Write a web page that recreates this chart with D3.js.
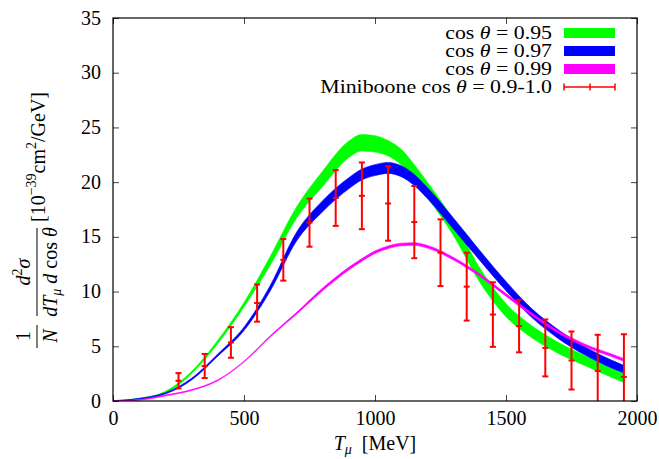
<!DOCTYPE html>
<html lang="en">
<head>
<meta charset="utf-8"/>
<title>Miniboone cross section</title>
<script src="https://d3js.org/d3.v7.min.js"></script>
<style>
  body { margin: 0; background: #fff; }
  text { font-family: "Liberation Serif", serif; fill: #000; }
</style>
</head>
<body>
<script>
// muon kinetic energy grid (MeV) for the model curves
var tGrid = [0, 100, 200, 300, 400, 500, 600, 700, 800, 900, 950, 1000, 1050, 1100, 1150, 1200, 1300, 1400, 1500, 1600, 1700, 1800, 1900, 1950];

// cos theta = 0.95 (green band): centre and half width
var green = [0, 0.2, 0.8, 2.6, 5.4, 8.8, 12.8, 17.2, 20.3, 23.0, 23.6, 23.5, 23.1, 22.3, 20.9, 19.3, 15.8, 11.5, 8.3, 6.3, 4.85, 3.7, 2.6, 2.1];
var greenHw = [0.03, 0.05, 0.08, 0.1, 0.15, 0.2, 0.4, 0.5, 0.7, 0.75, 0.75, 0.75, 0.7, 0.7, 0.7, 0.7, 0.7, 0.65, 0.6, 0.55, 0.5, 0.45, 0.4, 0.4];

// cos theta = 0.97 (blue band)
var blue = [0, 0.2, 0.7, 2.0, 4.2, 6.6, 10.3, 15.0, 17.8, 19.9, 20.7, 21.1, 21.3, 21.0, 20.2, 19.0, 16.2, 13.3, 10.5, 8.0, 6.1, 4.6, 3.4, 2.9];
var blueHw = [0.03, 0.04, 0.06, 0.08, 0.1, 0.15, 0.25, 0.4, 0.5, 0.5, 0.5, 0.5, 0.5, 0.5, 0.5, 0.5, 0.5, 0.45, 0.42, 0.4, 0.4, 0.38, 0.36, 0.35];

// cos theta = 0.99 (magenta band)
var magenta = [0, 0.1, 0.5, 1.0, 1.9, 3.6, 5.9, 8.0, 10.2, 12.1, 12.9, 13.6, 14.05, 14.3, 14.35, 14.1, 13.0, 11.5, 9.7, 7.9, 6.3, 5.1, 4.2, 3.75];
var magentaHw = [0.03, 0.03, 0.04, 0.04, 0.04, 0.04, 0.06, 0.08, 0.12, 0.12, 0.12, 0.12, 0.12, 0.12, 0.12, 0.12, 0.12, 0.12, 0.12, 0.12, 0.12, 0.12, 0.12, 0.12];

// Miniboone data, cos theta 0.9-1.0
var mbT = [250, 350, 450, 550, 650, 750, 850, 950, 1050, 1150, 1250, 1350, 1450, 1550, 1650, 1750, 1850, 1950];
var mbVal = [1.85, 3.2, 5.35, 8.95, 12.9, 16.3, 18.55, 18.75, 18.05, 16.35, 13.55, 10.45, 7.9, 6.85, 4.85, 3.7, 2.75, 2.2];
var mbErr = [0.7, 1.1, 1.4, 1.7, 1.9, 2.2, 2.55, 3.05, 3.4, 3.3, 3.05, 3.1, 2.95, 2.4, 2.6, 2.65, 3.3, 3.9];

var xTicks = [0, 500, 1000, 1500, 2000];
var yTicks = [0, 5, 10, 15, 20, 25, 30, 35];

var w = 659, h = 459;
var mLeft = 113, mRight = 637, mTop = 18, mBottom = 401;

var svg = d3.select("body").append("svg")
    .attr("width", w)
    .attr("height", h);

var x = d3.scaleLinear().domain([0, 2000]).range([mLeft, mRight]);
var y = d3.scaleLinear().domain([0, 35]).range([mBottom, mTop]);

svg.append("clipPath").attr("id", "plotclip")
    .append("rect")
    .attr("x", mLeft).attr("y", mTop)
    .attr("width", mRight - mLeft).attr("height", mBottom - mTop);

var plot = svg.append("g").attr("clip-path", "url(#plotclip)");

// bands
var bands = [
    {c: green, hw: greenHw, col: "#00ff00"},
    {c: blue, hw: blueHw, col: "#0000ff"},
    {c: magenta, hw: magentaHw, col: "#ff00ff"}
];

bands.forEach(function (b) {
    var pts = tGrid.map(function (t, i) { return {t: t, lo: b.c[i] - b.hw[i], hi: b.c[i] + b.hw[i]}; });
    var area = d3.area()
        .x(function (d) { return x(d.t); })
        .y0(function (d) { return y(d.lo); })
        .y1(function (d) { return y(d.hi); })
        .curve(d3.curveMonotoneX);
    plot.append("path")
        .datum(pts)
        .attr("d", area)
        .attr("fill", b.col)
        .attr("stroke", b.col)
        .attr("stroke-width", 0.6);
});

// error bars
var eb = plot.append("g").attr("stroke", "#ff0000").attr("stroke-width", 2);
mbT.forEach(function (t, i) {
    var cx = x(t);
    var yHi = y(mbVal[i] + mbErr[i]), yLo = y(mbVal[i] - mbErr[i]);
    eb.append("line").attr("x1", cx).attr("x2", cx).attr("y1", yHi).attr("y2", yLo);
    eb.append("line").attr("x1", cx - 3).attr("x2", cx + 3).attr("y1", yHi).attr("y2", yHi);
    eb.append("line").attr("x1", cx - 3).attr("x2", cx + 3).attr("y1", yLo).attr("y2", yLo);
    eb.append("line").attr("x1", cx - 3).attr("x2", cx + 3).attr("y1", y(mbVal[i])).attr("y2", y(mbVal[i]));
});

// axes (ticks inside, mirrored)
var tickLen = 6;
var axisBottom = d3.axisBottom(x).tickValues(xTicks).tickSize(-tickLen).tickPadding(14).tickFormat(d3.format("d"));
var axisTop = d3.axisTop(x).tickValues(xTicks).tickSize(-tickLen).tickFormat("");
var axisLeft = d3.axisLeft(y).tickValues(yTicks).tickSize(-tickLen).tickPadding(12).tickFormat(d3.format("d"));
var axisRight = d3.axisRight(y).tickValues(yTicks).tickSize(-tickLen).tickFormat("");

function styleAxis(g) {
    g.select(".domain").remove();
    g.selectAll(".tick line").attr("stroke", "#444").attr("stroke-width", 1);
    g.selectAll(".tick text").attr("font-family", "Liberation Serif").attr("font-size", 20).attr("fill", "#000");
}

svg.append("g").attr("transform", "translate(0," + mBottom + ")").call(axisBottom).call(styleAxis)
    .selectAll(".tick text").attr("dy", "0.5em");
svg.append("g").attr("transform", "translate(0," + mTop + ")").call(axisTop).call(styleAxis);
svg.append("g").attr("transform", "translate(" + mLeft + ",0)").call(axisLeft).call(styleAxis)
    .selectAll(".tick text").attr("dy", "0.3em");
svg.append("g").attr("transform", "translate(" + mRight + ",0)").call(axisRight).call(styleAxis);

// frame
svg.append("rect")
    .attr("x", mLeft).attr("y", mTop)
    .attr("width", mRight - mLeft).attr("height", mBottom - mTop)
    .attr("fill", "none").attr("stroke", "#000").attr("stroke-width", 1.2);

// x label
var xl = svg.append("text").attr("x", 375).attr("y", 450).attr("text-anchor", "middle").attr("font-size", 20);
xl.append("tspan").attr("font-style", "italic").text("T");
xl.append("tspan").attr("font-style", "italic").attr("font-size", 14).attr("dy", 4).text("μ");
xl.append("tspan").attr("dy", -4).text("\u00a0\u00a0[MeV]");

// y label, rotated; local y positive = screen right
var yl = svg.append("g").attr("transform", "translate(37,0) rotate(-90)");
yl.append("text").attr("x", -336).attr("y", -7).attr("text-anchor", "middle").attr("font-size", 20).text("1");
yl.append("line").attr("x1", -348).attr("x2", -325).attr("y1", 0).attr("y2", 0).attr("stroke", "#000").attr("stroke-width", 1);
yl.append("text").attr("x", -336).attr("y", 20).attr("text-anchor", "middle").attr("font-size", 20).attr("font-style", "italic").text("N");

var num = yl.append("text").attr("x", -272).attr("y", -7).attr("text-anchor", "middle").attr("font-size", 20);
num.append("tspan").attr("font-style", "italic").text("d");
num.append("tspan").attr("font-size", 14).attr("dy", -8).text("2");
num.append("tspan").attr("font-style", "italic").attr("dy", 8).text("σ");
yl.append("line").attr("x1", -316).attr("x2", -228).attr("y1", 0).attr("y2", 0).attr("stroke", "#000").attr("stroke-width", 1);
var den = yl.append("text").attr("x", -272).attr("y", 20).attr("text-anchor", "middle").attr("font-size", 20);
den.append("tspan").attr("font-style", "italic").text("dT");
den.append("tspan").attr("font-style", "italic").attr("font-size", 14).attr("dy", 4).text("μ");
den.append("tspan").attr("font-style", "italic").attr("dy", -4).text("\u00a0d");
den.append("tspan").text("\u00a0cos\u00a0");
den.append("tspan").attr("font-style", "italic").text("θ");

var unit = yl.append("text").attr("x", -222).attr("y", 8).attr("font-size", 20);
unit.append("tspan").text("[10");
unit.append("tspan").attr("font-size", 14).attr("dy", -9).text("−39");
unit.append("tspan").attr("dy", 9).text("cm");
unit.append("tspan").attr("font-size", 14).attr("dy", -9).text("2");
unit.append("tspan").attr("dy", 9).text("/GeV]");

// legend
var legLabels = ["0.95", "0.97", "0.99"];
var legCols = ["#00ff00", "#0000ff", "#ff00ff"];
var legY = [33, 51, 69, 87];
var leg = svg.append("g");
legLabels.forEach(function (lab, i) {
    var t = leg.append("text")
        .attr("transform", "translate(552," + (legY[i] + 6) + ") scale(1.15,1)")
        .attr("text-anchor", "end").attr("font-size", 19);
    t.append("tspan").text("cos\u00a0");
    t.append("tspan").attr("font-style", "italic").text("θ");
    t.append("tspan").text("\u00a0=\u00a0" + lab);
    leg.append("rect").attr("x", 564).attr("y", legY[i] - 5).attr("width", 51).attr("height", 10).attr("fill", legCols[i]);
});
var tm = leg.append("text")
    .attr("transform", "translate(552," + (legY[3] + 6) + ") scale(1.15,1)")
    .attr("text-anchor", "end").attr("font-size", 19);
tm.append("tspan").text("Miniboone\u00a0cos\u00a0");
tm.append("tspan").attr("font-style", "italic").text("θ");
tm.append("tspan").text("\u00a0=\u00a00.9-1.0");
var lg = leg.append("g").attr("stroke", "#ff0000").attr("stroke-width", 1.5);
lg.append("line").attr("x1", 564).attr("x2", 615).attr("y1", legY[3]).attr("y2", legY[3]);
[564, 590, 615].forEach(function (px) {
    lg.append("line").attr("x1", px).attr("x2", px).attr("y1", legY[3] - 3.5).attr("y2", legY[3] + 3.5);
});
</script>
</body>
</html>
